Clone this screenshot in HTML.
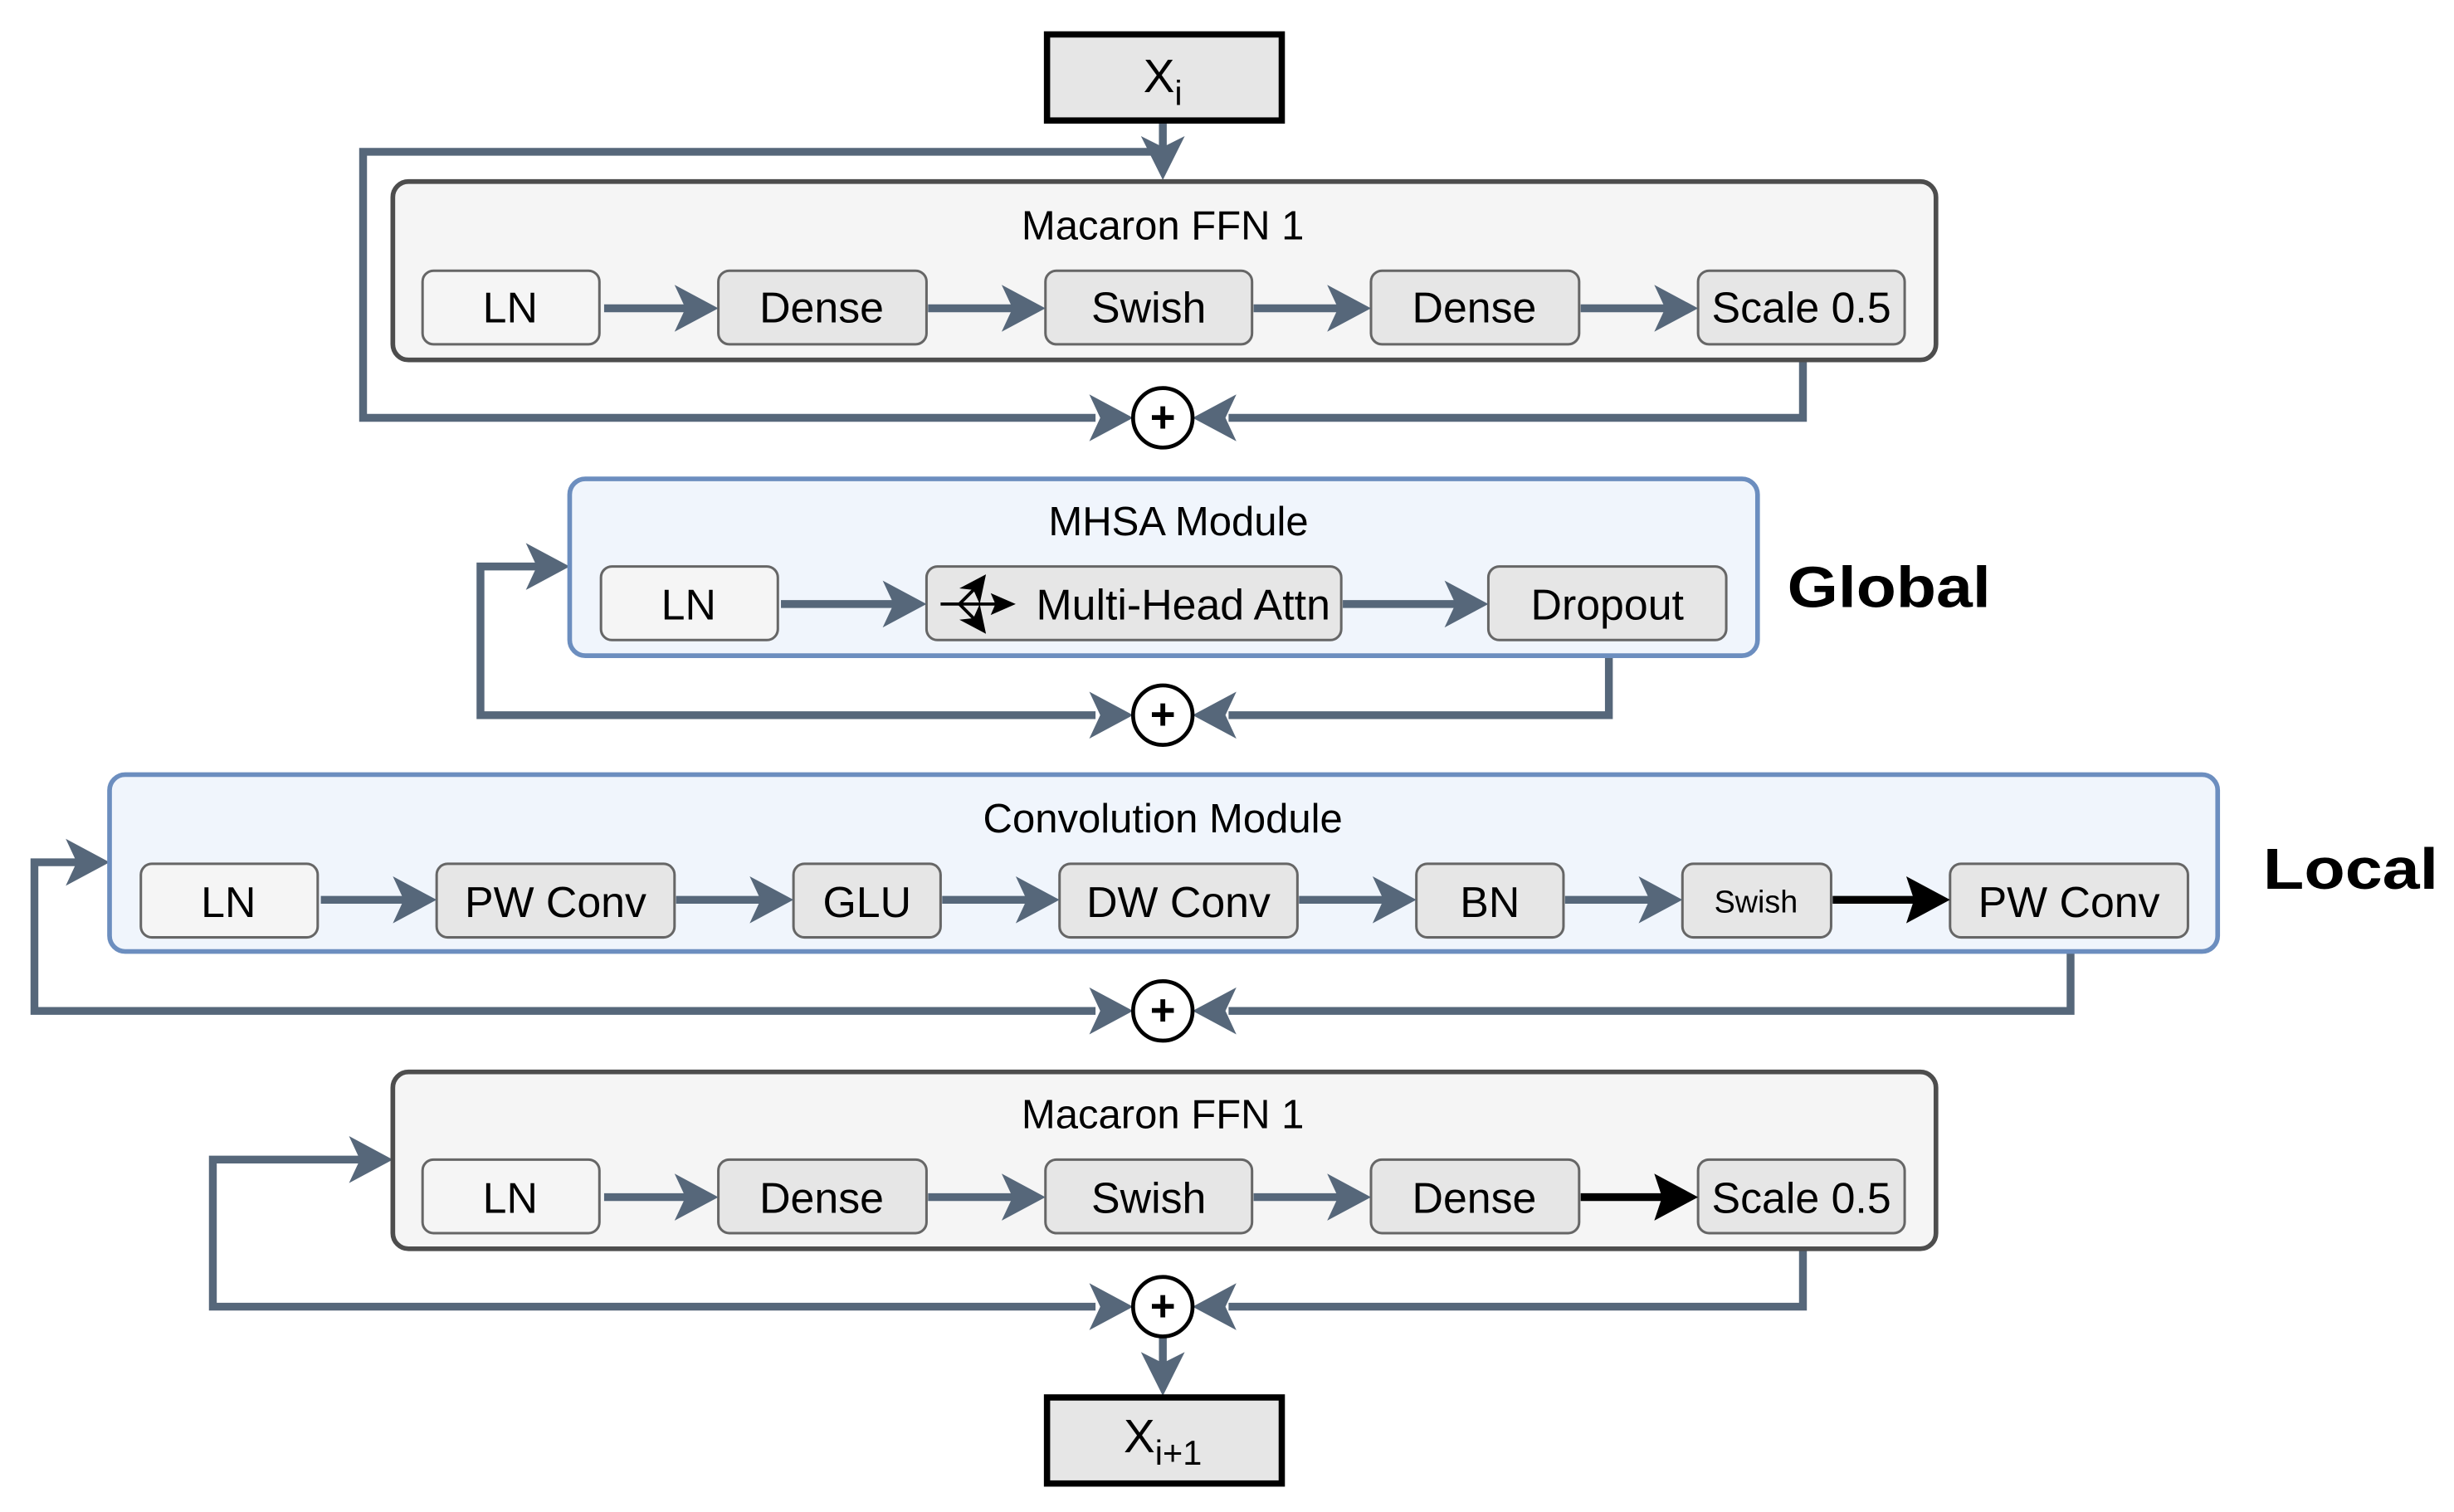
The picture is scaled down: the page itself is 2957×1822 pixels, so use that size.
<!DOCTYPE html>
<html><head><meta charset="utf-8"><style>
html,body{margin:0;padding:0;background:#fff;}
svg{display:block;}
text{font-family:"Liberation Sans",Arial,sans-serif;fill:#000;}
</style></head><body>
<svg width="2957" height="1822" viewBox="0 0 1568 966.2" preserveAspectRatio="none" xmlns="http://www.w3.org/2000/svg">
<defs>
<style>
.c{stroke:#56677a;stroke-width:5;fill:none;}
.ah{fill:#56677a;}
.bk{stroke:#000;stroke-width:5;fill:none;}
.ib{fill:#e6e6e6;stroke:#666;stroke-width:1.6;}
.ln{fill:#f5f5f5;stroke:#666;stroke-width:1.6;}
.t{font-size:27.5px;text-anchor:middle;}
.tt{font-size:26px;text-anchor:middle;}
</style>
</defs>

<!-- Xi box -->
<rect x="669" y="22" width="150" height="55" fill="#e6e6e6" stroke="#000" stroke-width="4"/>
<text x="743" y="59" font-size="30" text-anchor="middle">X<tspan font-size="22" dy="8">i</tspan></text>

<!-- FFN1 loop -->
<polyline class="c" points="743,79 743,96"/>
<polyline class="c" points="743,97 232,97 232,267 700,267"/>
<path class="ah" d="M743 115 L729 87 L743 94 L757 87 Z"/>
<path class="ah" d="M724 267 L696 252 L703 267 L696 282 Z"/>
<polyline class="c" points="1152,220 1152,267 785,267"/>
<path class="ah" d="M762 267 L790 252 L783 267 L790 282 Z"/>
<circle cx="743" cy="267" r="19" fill="#fff" stroke="#000" stroke-width="2.5"/>
<text x="743" y="276" font-size="28" font-weight="bold" text-anchor="middle">+</text>

<!-- FFN1 box -->
<rect x="251" y="116" width="986" height="114" rx="10" fill="#f5f5f5" stroke="#4d4d4d" stroke-width="3"/>
<text class="tt" x="743" y="153">Macaron FFN 1</text>
<rect class="ln" x="270" y="173" width="113" height="47" rx="7"/>
<text class="t" x="326" y="206">LN</text>
<rect class="ib" x="459" y="173" width="133" height="47" rx="7"/>
<text class="t" x="525" y="206">Dense</text>
<rect class="ib" x="668" y="173" width="132" height="47" rx="7"/>
<text class="t" x="734" y="206">Swish</text>
<rect class="ib" x="876" y="173" width="133" height="47" rx="7"/>
<text class="t" x="942" y="206">Dense</text>
<rect class="ib" x="1085" y="173" width="132" height="47" rx="7"/>
<text class="t" x="1151" y="206">Scale 0.5</text>
<line class="c" x1="386" y1="197" x2="440" y2="197"/><path class="ah" d="M459 197 L431 182 L438 197 L431 212 Z"/>
<line class="c" x1="593" y1="197" x2="648" y2="197"/><path class="ah" d="M668 197 L640 182 L647 197 L640 212 Z"/>
<line class="c" x1="801" y1="197" x2="856" y2="197"/><path class="ah" d="M876 197 L848 182 L855 197 L848 212 Z"/>
<line class="c" x1="1010" y1="197" x2="1065" y2="197"/><path class="ah" d="M1085 197 L1057 182 L1064 197 L1057 212 Z"/>

<!-- MHSA loop -->
<polyline class="c" points="700,457 307,457 307,362 344,362"/>
<path class="ah" d="M364 362 L336 347 L343 362 L336 377 Z"/>
<path class="ah" d="M724 457 L696 442 L703 457 L696 472 Z"/>
<polyline class="c" points="1028,409 1028,457 785,457"/>
<path class="ah" d="M762 457 L790 442 L783 457 L790 472 Z"/>
<circle cx="743" cy="457" r="19" fill="#fff" stroke="#000" stroke-width="2.5"/>
<text x="743" y="466" font-size="28" font-weight="bold" text-anchor="middle">+</text>

<!-- MHSA box -->
<rect x="364" y="306" width="759" height="113" rx="10" fill="#f0f5fc" stroke="#6c8ebf" stroke-width="3"/>
<text class="tt" x="753" y="342">MHSA Module</text>
<rect class="ln" x="384" y="362" width="113" height="47" rx="7"/>
<text class="t" x="440" y="396">LN</text>
<rect class="ib" x="592" y="362" width="265" height="47" rx="7"/>
<text class="t" x="756" y="396">Multi-Head Attn</text>
<rect class="ib" x="951" y="362" width="152" height="47" rx="7"/>
<text class="t" x="1027" y="396">Dropout</text>
<line class="c" x1="499" y1="386" x2="572" y2="386"/><path class="ah" d="M592 386 L564 371 L571 386 L564 401 Z"/>
<line class="c" x1="858" y1="386" x2="931" y2="386"/><path class="ah" d="M951 386 L923 371 L930 386 L923 401 Z"/>
<!-- attention icon -->
<line x1="601" y1="386" x2="640" y2="386" stroke="#000" stroke-width="2"/>
<path d="M649 386 L633 379 L636 386 L633 393 Z" fill="#000"/>
<line x1="613" y1="386" x2="627" y2="372" stroke="#000" stroke-width="2"/>
<line x1="613" y1="386" x2="627" y2="400" stroke="#000" stroke-width="2"/>
<path d="M630 367 L613 376 L622 377 L626 386 Z" fill="#000"/>
<path d="M630 405 L613 396 L622 395 L626 386 Z" fill="#000"/>
<text x="1142" y="388" font-size="37" font-weight="bold" textLength="130" lengthAdjust="spacingAndGlyphs">Global</text>

<!-- Conv loop -->
<polyline class="c" points="700,646 22,646 22,551 50,551"/>
<path class="ah" d="M70 551 L42 536 L49 551 L42 566 Z"/>
<path class="ah" d="M724 646 L696 631 L703 646 L696 661 Z"/>
<polyline class="c" points="1323,599 1323,646 785,646"/>
<path class="ah" d="M762 646 L790 631 L783 646 L790 661 Z"/>
<circle cx="743" cy="646" r="19" fill="#fff" stroke="#000" stroke-width="2.5"/>
<text x="743" y="655" font-size="28" font-weight="bold" text-anchor="middle">+</text>

<!-- Conv box -->
<rect x="70" y="495" width="1347" height="113" rx="10" fill="#f0f5fc" stroke="#6c8ebf" stroke-width="3"/>
<text class="tt" x="743" y="532">Convolution Module</text>
<rect class="ln" x="90" y="552" width="113" height="47" rx="7"/>
<text class="t" x="146" y="586">LN</text>
<rect class="ib" x="279" y="552" width="152" height="47" rx="7"/>
<text class="t" x="355" y="586">PW Conv</text>
<rect class="ib" x="507" y="552" width="94" height="47" rx="7"/>
<text class="t" x="554" y="586">GLU</text>
<rect class="ib" x="677" y="552" width="152" height="47" rx="7"/>
<text class="t" x="753" y="586">DW Conv</text>
<rect class="ib" x="905" y="552" width="94" height="47" rx="7"/>
<text class="t" x="952" y="586">BN</text>
<rect class="ib" x="1075" y="552" width="95" height="47" rx="7"/>
<text x="1122" y="583" font-size="20" text-anchor="middle">Swish</text>
<rect class="ib" x="1246" y="552" width="152" height="47" rx="7"/>
<text class="t" x="1322" y="586">PW Conv</text>
<line class="c" x1="205" y1="575" x2="259" y2="575"/><path class="ah" d="M279 575 L251 560 L258 575 L251 590 Z"/>
<line class="c" x1="432" y1="575" x2="487" y2="575"/><path class="ah" d="M507 575 L479 560 L486 575 L479 590 Z"/>
<line class="c" x1="602" y1="575" x2="657" y2="575"/><path class="ah" d="M677 575 L649 560 L656 575 L649 590 Z"/>
<line class="c" x1="830" y1="575" x2="885" y2="575"/><path class="ah" d="M905 575 L877 560 L884 575 L877 590 Z"/>
<line class="c" x1="1000" y1="575" x2="1055" y2="575"/><path class="ah" d="M1075 575 L1047 560 L1054 575 L1047 590 Z"/>
<line class="bk" x1="1171" y1="575" x2="1226" y2="575"/><path d="M1246 575 L1218 560 L1223 575 L1218 590 Z" fill="#000"/>
<text x="1446" y="568" font-size="37" font-weight="bold" textLength="112" lengthAdjust="spacingAndGlyphs">Local</text>

<!-- FFN2 loop -->
<polyline class="c" points="700,835 136,835 136,741 231,741"/>
<path class="ah" d="M251 741 L223 726 L230 741 L223 756 Z"/>
<path class="ah" d="M724 835 L696 820 L703 835 L696 850 Z"/>
<polyline class="c" points="1152,788 1152,835 785,835"/>
<path class="ah" d="M762 835 L790 820 L783 835 L790 850 Z"/>
<line class="c" x1="743" y1="854" x2="743" y2="875"/>
<path class="ah" d="M743 892 L729 864 L743 871 L757 864 Z"/>
<circle cx="743" cy="835" r="19" fill="#fff" stroke="#000" stroke-width="2.5"/>
<text x="743" y="844" font-size="28" font-weight="bold" text-anchor="middle">+</text>

<!-- FFN2 box -->
<rect x="251" y="685" width="986" height="113" rx="10" fill="#f5f5f5" stroke="#4d4d4d" stroke-width="3"/>
<text class="tt" x="743" y="721">Macaron FFN 1</text>
<rect class="ln" x="270" y="741" width="113" height="47" rx="7"/>
<text class="t" x="326" y="775">LN</text>
<rect class="ib" x="459" y="741" width="133" height="47" rx="7"/>
<text class="t" x="525" y="775">Dense</text>
<rect class="ib" x="668" y="741" width="132" height="47" rx="7"/>
<text class="t" x="734" y="775">Swish</text>
<rect class="ib" x="876" y="741" width="133" height="47" rx="7"/>
<text class="t" x="942" y="775">Dense</text>
<rect class="ib" x="1085" y="741" width="132" height="47" rx="7"/>
<text class="t" x="1151" y="775">Scale 0.5</text>
<line class="c" x1="386" y1="765" x2="440" y2="765"/><path class="ah" d="M459 765 L431 750 L438 765 L431 780 Z"/>
<line class="c" x1="593" y1="765" x2="648" y2="765"/><path class="ah" d="M668 765 L640 750 L647 765 L640 780 Z"/>
<line class="c" x1="801" y1="765" x2="856" y2="765"/><path class="ah" d="M876 765 L848 750 L855 765 L848 780 Z"/>
<line class="bk" x1="1010" y1="765" x2="1065" y2="765"/><path d="M1085 765 L1057 750 L1062 765 L1057 780 Z" fill="#000"/>

<!-- Xi+1 -->
<rect x="669" y="893" width="150" height="55" fill="#e6e6e6" stroke="#000" stroke-width="4"/>
<text x="743" y="928" font-size="30" text-anchor="middle">X<tspan font-size="22" dy="8">i+1</tspan></text>
</svg>
</body></html>
